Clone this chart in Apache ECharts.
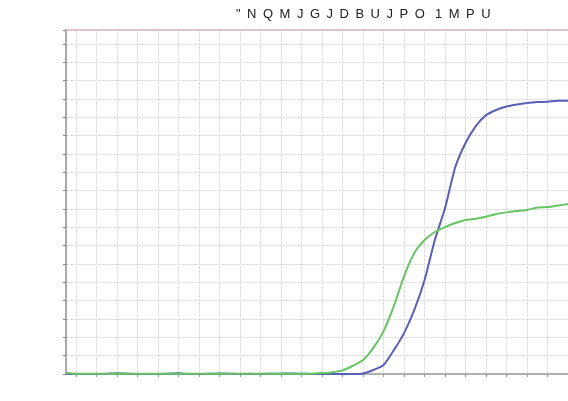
<!DOCTYPE html>
<html>
<head>
<meta charset="utf-8">
<script src="https://cdn.jsdelivr.net/npm/echarts@6/dist/echarts.min.js"></script>
<style>
  html, body {margin: 0; padding: 0; background: #fff;}
  #chart {width: 568px; height: 401px;}
</style>
</head>
<body>
<div id="chart"></div>
<script>
// title text as it appears in the picture
const titleText = '"\u2002N\u2002Q\u2002M\u2002J\u2002G\u2002J\u2002D\u2002B\u2002U\u2002J\u2002P\u2002O\u2002 1\u2002M\u2002P\u2002U'

const cycles = ['1', '2', '3', '4', '5', '6', '7', '8', '9', '10',
  '11', '12', '13', '14', '15', '16', '17', '18', '19', '20',
  '21', '22', '23', '24', '25', '26', '27', '28', '29', '30',
  '31', '32', '33', '34', '35', '36', '37', '38', '39', '40',
  '41', '42', '43', '44', '45', '46', '47', '48', '49', '50']

const blueValues = [0.02, 0, 0, 0, 0.01, 0.04, 0.02, 0, 0, 0,
  0.02, 0.04, 0, 0, 0.01, 0.03, 0.02, 0, 0.01, 0,
  0.01, 0.02, 0.03, 0.02, 0, 0, 0, 0, 0, 0.03,
  0.22, 0.49, 1.3, 2.23, 3.49, 5.12, 7.3, 9.05, 11.28, 12.59,
  13.51, 14.11, 14.39, 14.58, 14.69, 14.77, 14.82, 14.84, 14.9, 14.89]

const greenValues = [0.05, 0.02, 0.01, 0.01, 0.01, 0.01, 0.01, 0.01, 0.01, 0.01,
  0.01, 0.01, 0.01, 0.01, 0.01, 0.01, 0.01, 0.01, 0.01, 0.01,
  0.01, 0.01, 0.01, 0.01, 0.02, 0.05, 0.1, 0.2, 0.45, 0.76,
  1.42, 2.34, 3.7, 5.34, 6.6, 7.3, 7.74, 8.01, 8.23, 8.39,
  8.46, 8.57, 8.72, 8.81, 8.88, 8.94, 9.07, 9.1, 9.18, 9.26]

const evenCycle = (idx) => idx % 2 === 1

const chart = echarts.init(document.getElementById('chart'))

chart.setOption({
  animation: false,
  backgroundColor: '#fff',
  title: {
    text: titleText,
    left: 231,
    top: 3,
    textStyle: {fontFamily: 'Liberation Sans', fontSize: 13, fontWeight: 'normal', color: '#222'}
  },
  grid: {left: 66, right: -1.5, top: 30, bottom: 27},
  xAxis: [{
    type: 'category',
    data: cycles,
    boundaryGap: false,
    axisLine: {lineStyle: {color: '#9a9a9a', width: 1.5}},
    axisTick: {show: true, interval: evenCycle, length: 3, lineStyle: {color: '#9a9a9a'}},
    axisLabel: {show: false},
    splitLine: {show: true, interval: evenCycle, lineStyle: {color: '#dcdcdc', type: [3, 1]}}
  }, {
    type: 'category',
    data: cycles,
    position: 'top',
    boundaryGap: false,
    axisLine: {lineStyle: {color: '#dcb4b4', width: 1.5}},
    axisTick: {show: false},
    axisLabel: {show: false},
    splitLine: {show: false}
  }],
  yAxis: {
    type: 'value',
    min: 0,
    max: 18.75,
    interval: 1,
    axisLine: {show: true, lineStyle: {color: '#8c8c8c', width: 1.5}},
    axisTick: {show: true, length: 3, lineStyle: {color: '#8c8c8c'}},
    axisLabel: {show: false},
    splitLine: {show: true, lineStyle: {color: '#dcdcdc', type: [3, 1]}}
  },
  series: [{
    type: 'line',
    data: blueValues,
    symbol: 'none',
    smooth: 0.2,
    lineStyle: {width: 2, color: '#5a5fb6'}
  }, {
    type: 'line',
    data: greenValues,
    symbol: 'none',
    smooth: 0.2,
    lineStyle: {width: 2, color: '#66c463'}
  }]
})
</script>
</body>
</html>
